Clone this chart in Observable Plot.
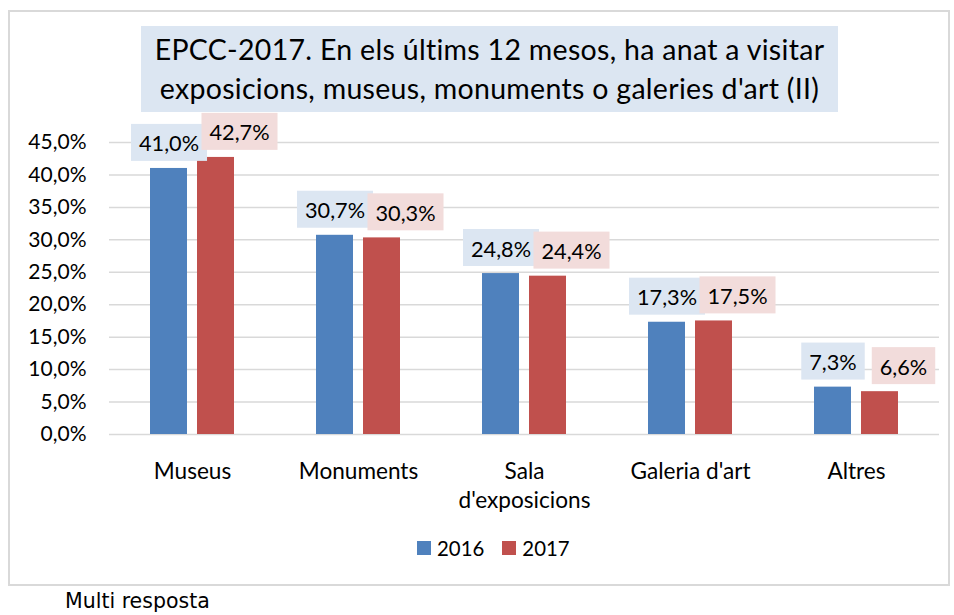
<!DOCTYPE html>
<html>
<head>
<meta charset="utf-8">
<script src="https://cdn.jsdelivr.net/npm/d3@7"></script>
<script src="https://cdn.jsdelivr.net/npm/@observablehq/plot@0.6"></script>
<style>
  body { margin: 0; background: #fff; }
  #wrap { position: relative; width: 954px; height: 615px; overflow: hidden; font-family: Lato, sans-serif; color: #000; }
  #frame { position: absolute; left: 8px; top: 10px; width: 942px; height: 576px; border: 2px solid #d9d9d9; box-sizing: border-box; }
  #title { position: absolute; left: 141px; top: 26px; width: 697px; height: 86px; box-sizing: border-box; padding-top: 4px;
           background: #dce6f2; text-align: center; font-size: 28.5px; letter-spacing: 0.3px; line-height: 39px; white-space: nowrap; }
  #chart { position: absolute; left: 0; top: 0; }
  #legend { position: absolute; left: 417px; top: 536px; height: 24px; display: flex; align-items: center; font-size: 20.4px; line-height: 24px; }
  #legend .sw { width: 14px; height: 14px; margin-right: 6px; }
  #legend .item { display: flex; align-items: center; margin-right: 18px; }
  #caption { position: absolute; left: 65px; top: 589px; font-family: "DejaVu Sans", sans-serif; font-size: 20.5px; line-height: 24px; }
</style>
</head>
<body>
<div id="wrap">
  <div id="frame"></div>
  <div id="chart"></div>
  <div id="title"></div>
  <div id="legend"></div>
  <div id="caption"></div>
</div>
<script>
// ---- data ----
const titleLines = ["EPCC-2017. En els últims 12 mesos, ha anat a visitar", "exposicions, museus, monuments o galeries d'art (II)"];
const categories = ["Museus", "Monuments", "Sala d'exposicions", "Galeria d'art", "Altres"];
const years = ["2016", "2017"];
const values2016 = [41.0, 30.7, 24.8, 17.3, 7.3];
const values2017 = [42.7, 30.3, 24.4, 17.5, 6.6];
const colors = ["#4f81bd", "#c0504d"];
const labelBg = ["#dce6f2", "#f2dcdb"];
const yTicks = [0, 5, 10, 15, 20, 25, 30, 35, 40, 45];
const captionText = "Multi resposta";

// ---- build ----
const rows = [];
categories.forEach((c, i) => {
  rows.push({category: c, year: years[0], value: values2016[i]});
  rows.push({category: c, year: years[1], value: values2017[i]});
});
const fmt = v => v.toFixed(1).replace(".", ",") + "%";

const chart = Plot.plot({
  width: 954,
  height: 615,
  marginTop: 142,
  marginBottom: 181,
  marginLeft: 108,
  marginRight: 14,
  style: {fontFamily: "Lato, sans-serif", fontSize: "21px", color: "#000", background: "transparent", overflow: "visible"},
  fx: {domain: categories, padding: 0, label: null, axis: null},
  x: {domain: years, paddingInner: 0.22, paddingOuter: 0.87, axis: null},
  y: {domain: [0, 45], label: null, axis: null},
  color: {domain: years, range: colors},
  marks: [
    Plot.gridY(yTicks, {stroke: "#d9d9d9", strokeOpacity: 1, strokeWidth: 1.5}),
    Plot.barY(rows, {fx: "category", x: "year", y: "value", fill: "year"}),
    Plot.text(rows.filter(d => d.year === years[0]), {
      fx: "category", x: "year", y: "value", text: d => fmt(d.value),
      dy: -24, fontSize: 21.7, fill: "#000", ariaDescription: "lbl0"
    }),
    Plot.text(rows.filter(d => d.year === years[1]), {
      fx: "category", x: "year", y: "value", text: d => fmt(d.value),
      dy: -24, dx: 23.5, fontSize: 21.7, fill: "#000", ariaDescription: "lbl1"
    }),
    Plot.axisY(yTicks, {tickSize: 0, tickPadding: 23, tickFormat: fmt, label: null, fill: "#000", fontSize: 21}),
    Plot.axisFx({anchor: "bottom", tickSize: 0, tickPadding: 24, fontSize: 22.6, lineHeight: 1.29, label: null, fill: "#000",
      tickFormat: d => d.replace("Sala ", "Sala\n")})
  ]
});
document.getElementById("chart").appendChild(chart);

// label background boxes
const NS = "http://www.w3.org/2000/svg";
["lbl0", "lbl1"].forEach((name, k) => {
  chart.querySelectorAll(`g[aria-description="${name}"] text`).forEach(t => {
    const b = t.getBBox();
    const r = document.createElementNS(NS, "rect");
    const h = 37;
    const cy = b.y + b.height / 2 - 1;
    r.setAttribute("x", b.x - 8);
    r.setAttribute("y", cy - h / 2);
    r.setAttribute("width", b.width + 16);
    r.setAttribute("height", h);
    r.setAttribute("fill", labelBg[k]);
    const tr = t.getAttribute("transform");
    if (tr) r.setAttribute("transform", tr);
    t.parentNode.insertBefore(r, t);
  });
});

// title
const title = document.getElementById("title");
title.innerHTML = titleLines.join("<br>");

// legend
const legend = document.getElementById("legend");
years.forEach((y, i) => {
  const item = document.createElement("div");
  item.className = "item";
  const sw = document.createElement("div");
  sw.className = "sw";
  sw.style.background = colors[i];
  const tx = document.createElement("span");
  tx.textContent = y;
  item.appendChild(sw);
  item.appendChild(tx);
  legend.appendChild(item);
});

document.getElementById("caption").textContent = captionText;
</script>
</body>
</html>
